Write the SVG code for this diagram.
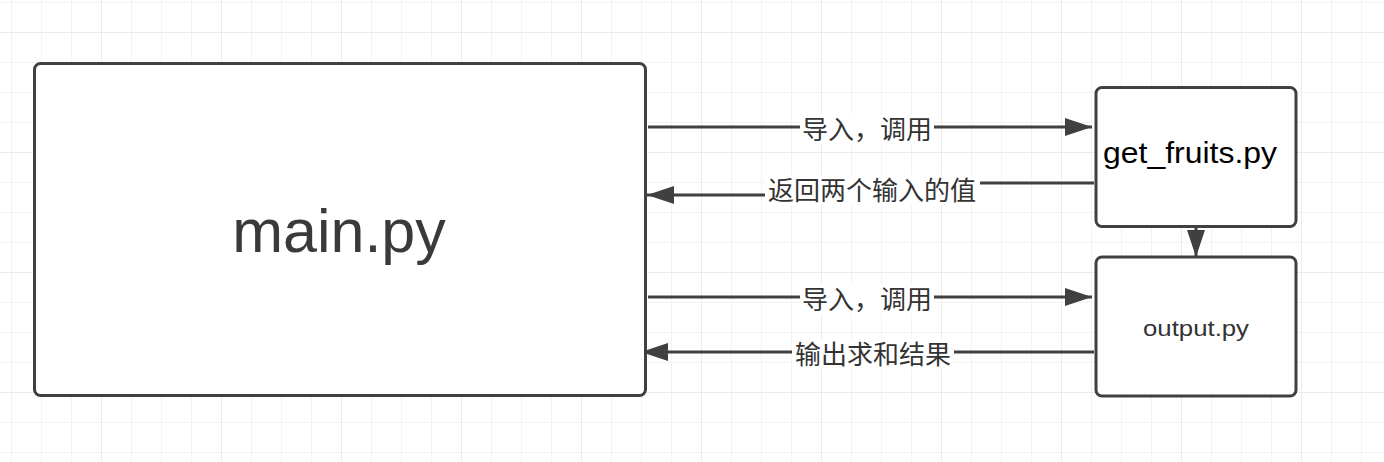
<svg xmlns="http://www.w3.org/2000/svg" width="1384" height="462" viewBox="0 0 1384 462">
  <defs>
    <pattern id="minor" x="11" y="2" width="30" height="30" patternUnits="userSpaceOnUse">
      <path d="M0,0 V30 M0,0 H30" fill="none" stroke="#f3f3f3" stroke-width="2"/>
    </pattern>
    <pattern id="major" x="101" y="32" width="120" height="120" patternUnits="userSpaceOnUse">
      <path d="M0,0 V120 M0,0 H120" fill="none" stroke="#ebebeb" stroke-width="2"/>
    </pattern>
    <marker id="arrow" markerUnits="userSpaceOnUse" markerWidth="28" markerHeight="18" refX="27" refY="9" orient="auto">
      <path d="M0,0 L27,9 L0,18 z" fill="#404040"/>
    </marker>
  </defs>
  <style>
    .box { fill: #ffffff; stroke: #404040; stroke-width: 3; }
    .conn { fill: none; stroke: #404040; stroke-width: 3; marker-end: url(#arrow); }
    .lbl { font-family: "Noto Sans CJK SC", "Liberation Sans", sans-serif; font-size: 26px; fill: #333333; text-anchor: middle; }
    .lblbg { fill: #ffffff; }
  </style>
  <rect width="1384" height="462" fill="#ffffff"/>
  <rect width="1384" height="462" fill="url(#minor)"/>
  <rect width="1384" height="462" fill="url(#major)"/>

  <g id="connectors">
    <path class="conn" d="M648,127 H1092"/>
    <path class="conn" d="M1094,183 H872 V195 H647"/>
    <path class="conn" d="M648,297 H1092"/>
    <path class="conn" d="M1094,352 H641"/>
    <path class="conn" d="M1196,226 V257"/>
    <rect class="lblbg" x="800" y="114" width="134" height="30"/>
    <text class="lbl" x="867" y="139">导入，调用</text>
    <rect class="lblbg" x="765" y="175" width="215" height="30"/>
    <text class="lbl" x="872" y="200">返回两个输入的值</text>
    <rect class="lblbg" x="800" y="284" width="134" height="30"/>
    <text class="lbl" x="867" y="309">导入，调用</text>
    <rect class="lblbg" x="792" y="339" width="162" height="30"/>
    <text class="lbl" x="873" y="364">输出求和结果</text>
  </g>

  <g id="main">
    <rect class="box" x="34.5" y="63.5" width="611" height="332" rx="6"/>
    <text x="339" y="252" font-family="Liberation Sans, Arial, sans-serif" font-size="61" fill="#3a3a3a" text-anchor="middle">main.py</text>
  </g>
  <g id="get_fruits">
    <rect class="box" x="1096" y="87.5" width="200" height="139" rx="6"/>
    <text x="1190" y="163" font-family="Liberation Sans, Arial, sans-serif" font-size="30" fill="#000000" text-anchor="middle" textLength="174" lengthAdjust="spacingAndGlyphs">get_fruits.py</text>
  </g>
  <g id="output">
    <rect class="box" x="1096" y="257" width="200" height="139" rx="6"/>
    <text x="1196" y="336" font-family="Liberation Sans, Arial, sans-serif" font-size="22" fill="#333333" text-anchor="middle" textLength="106" lengthAdjust="spacingAndGlyphs">output.py</text>
  </g>
</svg>
